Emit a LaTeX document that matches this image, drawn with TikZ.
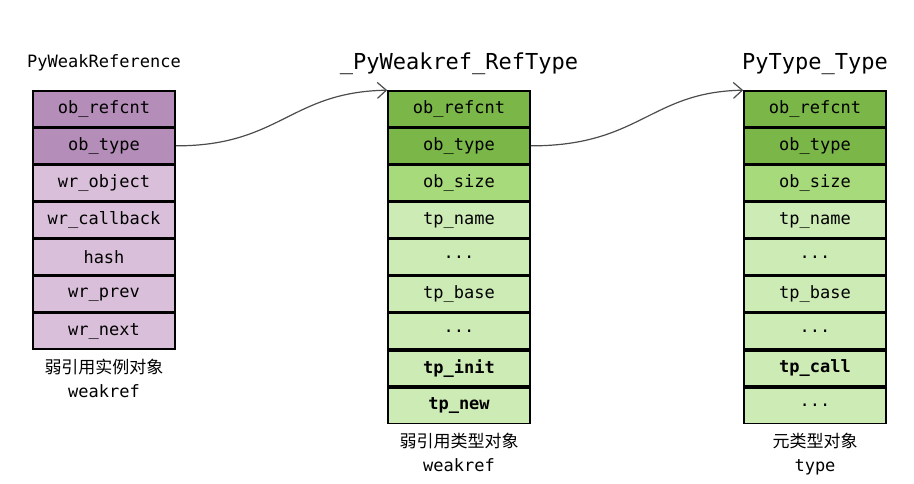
\documentclass[tikz,border=0pt]{standalone}
\usepackage{fontspec}
\setmonofont{DejaVu Sans Mono}
\newfontfamily\cjk{Noto Sans CJK SC}
\usetikzlibrary{positioning,arrows.meta}
\definecolor{purpleA}{HTML}{B48DB8}
\definecolor{purpleB}{HTML}{D9BFD9}
\definecolor{greenA}{HTML}{7AB648}
\definecolor{greenB}{HTML}{A6DA7A}
\definecolor{greenC}{HTML}{CDEBB5}
\newcommand\skipped{.{}.{}.}
\tikzset{
  field/.style={draw=black,line width=1.6pt,minimum width=142pt,minimum height=35.5pt,
    inner sep=0pt,font=\fontsize{17}{17}\ttfamily,fill=#1},
  title/.style={font=\fontsize{#1}{#1}\ttfamily},
  caption/.style={align=center,font=\fontsize{17}{24}\selectfont},
  link/.style={draw=black!70,line width=1.2pt,-{Straight Barb[length=9pt,width=16pt]}}
}
\begin{document}
\begin{tikzpicture}[x=1pt,y=-1pt]
\useasboundingbox (0,0) rectangle (914,484);
% PyWeakReference
\node[field=purpleA] (l1) at (104,108.75) {ob\_refcnt};
\node[field=purpleA,below=0pt of l1] (l2) {ob\_type};
\foreach \i/\t [remember=\i as \j (initially 2)] in {3/wr\_object,4/wr\_callback,5/hash,6/wr\_prev,7/wr\_next}
  \node[field=purpleB,below=0pt of l\j] (l\i) {\t};
\node[title=17,above=16pt of l1] (ltitle) {PyWeakReference};
\node[caption,below=6pt of l7] (lcap) {{\cjk 弱引用实例对象}\\\ttfamily weakref};
% _PyWeakref_RefType
\node[field=greenA] (m1) at (459,108.75) {ob\_refcnt};
\node[field=greenA,below=0pt of m1] (m2) {ob\_type};
\node[field=greenB,below=0pt of m2] (m3) {ob\_size};
\foreach \i/\t [remember=\i as \j (initially 3)] in {4/tp\_name,5/\skipped,6/tp\_base,7/\skipped,8/\textbf{tp\_init},9/\textbf{tp\_new}}
  \node[field=greenC,below=0pt of m\j] (m\i) {\t};
\node[title=22,above=12pt of m1] (mtitle) {\_PyWeakref\_RefType};
\node[caption,below=6pt of m9] (mcap) {{\cjk 弱引用类型对象}\\\ttfamily weakref};
% PyType_Type
\node[field=greenA] (r1) at (815,108.75) {ob\_refcnt};
\node[field=greenA,below=0pt of r1] (r2) {ob\_type};
\node[field=greenB,below=0pt of r2] (r3) {ob\_size};
\foreach \i/\t [remember=\i as \j (initially 3)] in {4/tp\_name,5/\skipped,6/tp\_base,7/\skipped,8/\textbf{tp\_call},9/\skipped}
  \node[field=greenC,below=0pt of r\j] (r\i) {\t};
\node[title=22,above=12pt of r1] (rtitle) {PyType\_Type};
\node[caption,below=6pt of r9] (rcap) {{\cjk 元类型对象}\\\ttfamily type};
% pointers
\draw[link] (l2.east) .. controls (280,146) and (290,92) .. (m1.north west);
\draw[link] (m2.east) .. controls (640,146) and (650,92) .. (r1.north west);
\end{tikzpicture}
\end{document}
